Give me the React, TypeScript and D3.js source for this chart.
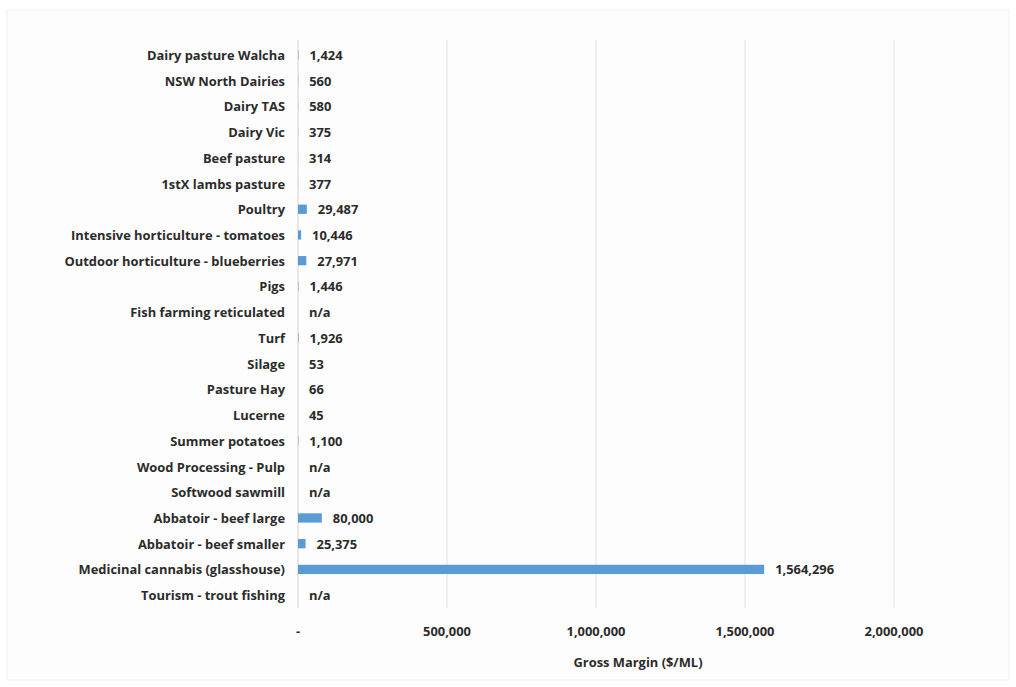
import React from "react";
import * as d3 from "d3";

const categories: string[] = [
  "Dairy pasture Walcha",
  "NSW North Dairies",
  "Dairy TAS",
  "Dairy Vic",
  "Beef pasture",
  "1stX lambs pasture",
  "Poultry",
  "Intensive horticulture - tomatoes",
  "Outdoor horticulture - blueberries",
  "Pigs",
  "Fish farming reticulated",
  "Turf",
  "Silage",
  "Pasture Hay",
  "Lucerne",
  "Summer potatoes",
  "Wood Processing - Pulp",
  "Softwood sawmill",
  "Abbatoir - beef large",
  "Abbatoir - beef smaller",
  "Medicinal cannabis (glasshouse)",
  "Tourism - trout fishing",
];

const grossMargin: (number | null)[] = [
  1424, 560, 580, 375, 314, 377, 29487, 10446, 27971, 1446, null, 1926, 53, 66, 45, 1100,
  null, null, 80000, 25375, 1564296, null,
];

const xTicks: number[] = [0, 500000, 1000000, 1500000, 2000000];
const axisTitle = "Gross Margin ($/ML)";

const W = 1016;
const H = 687;
const margin = { left: 298, right: 122, top: 42, bottom: 79 };

export default function App() {
  const x = d3.scaleLinear().domain([0, 2000000]).range([margin.left, W - margin.right]);
  const y = d3
    .scaleBand<string>()
    .domain(categories)
    .range([margin.top, H - margin.bottom])
    .paddingInner(0.64)
    .paddingOuter(0.32);
  const fmt = d3.format(",");
  const font = "'Open Sans', sans-serif";
  const textColor = "#2b2b2b";
  const fs = 12.9;

  return (
    <div style={{ position: "absolute", left: 0, top: 0 }}>
      <svg width={W} height={H} style={{ display: "block", background: "#ffffff" }}>
        <rect x={7} y={10} width={1002} height={670} fill="#fdfdfd" stroke="#f0f0f0" />
        {xTicks.map((t) => (
          <line
            key={t}
            x1={x(t)}
            x2={x(t)}
            y1={40}
            y2={608}
            stroke={t === 0 ? "#e0e0e0" : "#ebebeb"}
            strokeWidth={1.5}
          />
        ))}
        {categories.map((c, i) => {
          const v = grossMargin[i];
          const yc = (y(c) as number) + y.bandwidth() / 2;
          return (
            <g key={c}>
              <text
                x={285}
                y={yc}
                textAnchor="end"
                dominantBaseline="central"
                fontFamily={font}
                fontWeight={700}
                fontSize={fs}
                fill={textColor}
              >
                {c}
              </text>
              {v !== null && (
                <rect
                  x={x(0)}
                  y={y(c) as number}
                  width={x(v) - x(0)}
                  height={y.bandwidth()}
                  fill="#5b9bd5"
                />
              )}
              <text
                x={x(v ?? 0) + 11}
                y={yc}
                dominantBaseline="central"
                fontFamily={font}
                fontWeight={700}
                fontSize={fs}
                fill={textColor}
              >
                {v === null ? "n/a" : fmt(v)}
              </text>
            </g>
          );
        })}
        {xTicks.map((t) => (
          <text
            key={"t" + t}
            x={x(t)}
            y={631}
            textAnchor="middle"
            dominantBaseline="central"
            fontFamily={font}
            fontWeight={700}
            fontSize={fs}
            fill={textColor}
          >
            {t === 0 ? "-" : fmt(t)}
          </text>
        ))}
        <text
          x={638}
          y={662}
          textAnchor="middle"
          dominantBaseline="central"
          fontFamily={font}
          fontWeight={700}
          fontSize={fs}
          fill={textColor}
        >
          {axisTitle}
        </text>
      </svg>
    </div>
  );
}
